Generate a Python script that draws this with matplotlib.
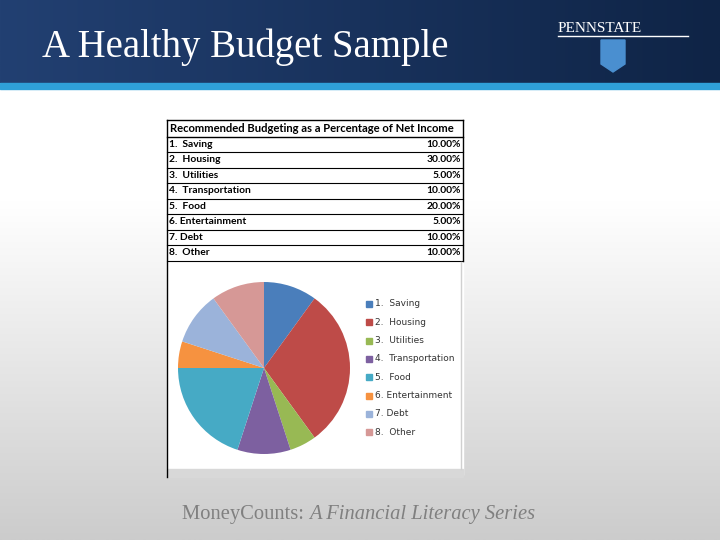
import numpy as np
import matplotlib
matplotlib.use("Agg")
import matplotlib.pyplot as plt
from matplotlib.patches import Rectangle, Polygon

# budget data
categories = ["1.  Saving", "2.  Housing", "3.  Utilities", "4.  Transportation",
              "5.  Food", "6. Entertainment", "7. Debt", "8.  Other"]
legend_labels = ["1.  Saving", "2.  Housing", "3.  Utilities", "4.  Transportation",
                 "5.  Food", "6. Entertainment", "7. Debt", "8.  Other"]
percents = [10.0, 30.0, 5.0, 10.0, 20.0, 5.0, 10.0, 10.0]
colors = ["#4a7ebb", "#be4b48", "#98b954", "#7d60a0", "#46aac5", "#f69240", "#9bb3da", "#d69896"]

W, H = 720, 540
fig = plt.figure(figsize=(7.2, 5.4), dpi=100)

# background axes in pixel coords
bg = fig.add_axes([0, 0, 1, 1])
bg.set_xlim(0, W)
bg.set_ylim(H, 0)
bg.axis("off")

# body gradient white -> light gray
grad = np.linspace(0, 1, 256).reshape(-1, 1)
body = np.clip((grad - 0.25) / 0.75, 0, 1)
top_c = np.array([1.0, 1.0, 1.0])
bot_c = np.array([0.80, 0.80, 0.80])
img = top_c + (bot_c - top_c) * body[..., None]
bg.imshow(img, extent=[0, W, H, 89], aspect="auto", zorder=0)

# header gradient
hx = np.linspace(0, 1, 256).reshape(1, -1)
left_c = np.array([0x22, 0x40, 0x72]) / 255
right_c = np.array([0x0f, 0x24, 0x46]) / 255
himg = left_c + (right_c - left_c) * hx[..., None]
bg.imshow(himg, extent=[0, W, 83, 0], aspect="auto", zorder=1)
bg.add_patch(Rectangle((0, 83), W, 6, color="#2fa0d8", zorder=2))

bg.text(42, 47, "A Healthy Budget Sample", color="white", fontsize=28,
        family="Liberation Serif", va="center", ha="left", zorder=3)

# Penn State logo
bg.text(558, 28, "PENNSTATE", color="white", fontsize=11, family="Liberation Serif",
        va="center", ha="left", zorder=3)
bg.plot([558, 688], [36, 36], color="white", lw=1, zorder=3)
shield = Polygon([[601, 40], [625, 40], [625, 64], [613, 72], [601, 64]],
                 closed=True, color="#4a8fd0", zorder=3)
bg.add_patch(shield)

# table
tx0, tx1 = 167, 463
ty0 = 120
hdr_h = 16.5
row_h = 15.5
bg.add_patch(Rectangle((tx0, ty0), tx1 - tx0, 355, color="white", zorder=2))
bg.text(tx0 + 3, ty0 + hdr_h / 2, "Recommended Budgeting as a Percentage of Net Income",
        fontsize=8.1, family="Lato", weight="bold", va="center", ha="left", zorder=4)
bg.plot([tx0, tx1], [ty0, ty0], color="black", lw=1, zorder=4)
y = ty0 + hdr_h
bg.plot([tx0, tx1], [y, y], color="black", lw=1, zorder=4)
for cat, p in zip(categories, percents):
    yc = y + row_h / 2
    bg.text(tx0 + 2, yc, cat, fontsize=7.4, family="Lato", weight="bold",
            va="center", ha="left", zorder=4)
    bg.text(tx1 - 2, yc, f"{p:.2f}%", fontsize=7.4, family="Lato", weight="bold",
            va="center", ha="right", zorder=4)
    y += row_h
    bg.plot([tx0, tx1], [y, y], color="black", lw=0.8, zorder=4)
bg.plot([tx1, tx1], [ty0, y], color="black", lw=1, zorder=4)
bg.plot([tx0, tx0], [ty0, 477], color="black", lw=1, zorder=4)

# chart area below the table
bg.add_patch(Rectangle((tx0, 469), tx1 - tx0, 8, color="#d8d8d8", zorder=3))
bg.plot([461, 461], [262, 469], color="#d0d0d0", lw=1, zorder=4)

# legend
ly = 304
for lab, c in zip(legend_labels, colors):
    bg.add_patch(Rectangle((366, ly - 3), 6, 6, color=c, zorder=4))
    bg.text(375, ly, lab, fontsize=6.5, family="DejaVu Sans", color="#333333",
            va="center", ha="left", zorder=4)
    ly += 18.3

# pie
cx, cy, r = 264, 368, 86
pax = fig.add_axes([(cx - r) / W, (H - cy - r) / H, 2 * r / W, 2 * r / H])
pax.pie(percents, colors=colors, startangle=90, counterclock=False,
        wedgeprops=dict(linewidth=0))
pax.set_xlim(-1, 1)
pax.set_ylim(-1, 1)
pax.axis("off")

# footer: plain part then italic part right after it
t1 = bg.text(182, 514, "MoneyCounts: ", fontsize=14.8, family="Liberation Serif",
             color="#808080", va="center", ha="left", zorder=4)
fig.canvas.draw()
ext = t1.get_window_extent(fig.canvas.get_renderer())
x2 = bg.transData.inverted().transform((ext.x1, ext.y0))[0]
bg.text(x2, 514, "A Financial Literacy Series", fontsize=14.8, family="Liberation Serif",
        style="italic", color="#808080", va="center", ha="left", zorder=4)

plt.savefig("out.png", dpi=100)
